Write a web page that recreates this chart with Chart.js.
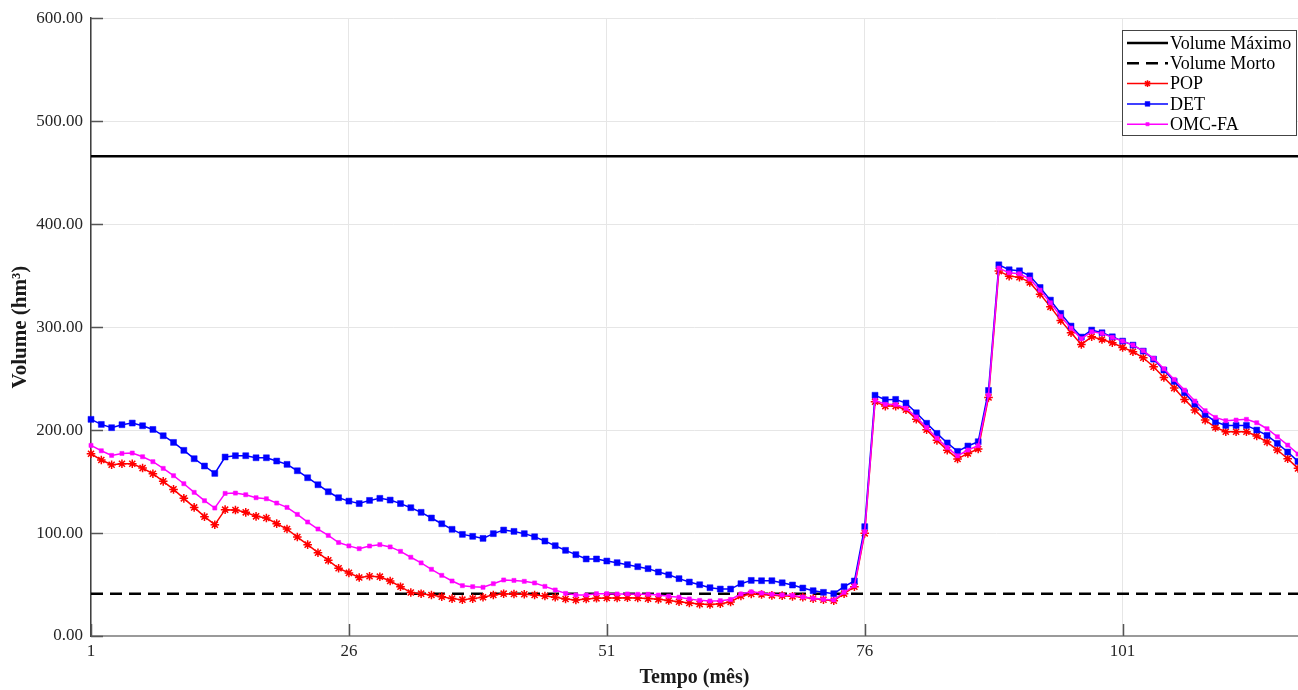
<!DOCTYPE html>
<html>
<head>
<meta charset="utf-8">
<title>Volume do reservatório</title>
<script src="https://cdn.jsdelivr.net/npm/chart.js@4.4.1/dist/chart.umd.min.js"></script>
<style>
  html, body { margin: 0; padding: 0; background: #ffffff; }
  #wrap { width: 1298px; height: 690px; }
</style>
</head>
<body>
<div id="wrap"><canvas id="chart" width="1298" height="690"></canvas></div>
<script>
// Volume armazenado (hm³) por mês para cada política de operação
const pop = [
  177.0, 170.9, 166.3, 167.3, 167.3, 163.1, 157.6, 150.2, 142.4, 133.7,
  124.9, 115.9, 108.1, 122.7, 122.3, 120.1, 116.2, 114.6, 109.1, 103.9,
  96.1, 88.7, 80.9, 73.5, 65.8, 61.3, 56.8, 58.0, 57.6, 53.4,
  47.9, 42.2, 41.1, 39.8, 38.2, 36.3, 35.3, 36.3, 37.6, 39.8,
  41.1, 40.8, 40.5, 39.8, 38.8, 37.6, 35.9, 35.0, 35.9, 36.6,
  36.9, 36.9, 37.2, 36.9, 36.3, 35.6, 34.5, 33.3, 32.1, 31.0,
  30.7, 31.4, 33.0, 38.8, 40.8, 40.3, 39.5, 39.2, 38.5, 37.6,
  36.3, 35.3, 34.3, 41.1, 47.9, 99.7, 227.6, 223.3, 223.3, 219.8,
  210.6, 200.4, 190.0, 180.5, 172.0, 177.3, 181.6, 231.7, 354.4, 349.5,
  348.5, 343.4, 332.0, 319.7, 306.5, 294.5, 283.2, 290.6, 288.0, 284.8,
  280.3, 276.1, 270.2, 261.5, 251.1, 240.8, 229.8, 219.4, 209.7, 202.6,
  198.4, 198.4, 198.4, 194.2, 188.4, 180.6, 172.2, 162.8
];
const det = [
  210.4, 205.5, 202.3, 205.2, 206.8, 204.2, 200.6, 194.5, 188.0, 180.3,
  172.2, 165.1, 157.9, 173.8, 175.1, 175.1, 173.1, 173.1, 169.9, 166.7,
  160.5, 153.7, 146.9, 140.1, 134.3, 131.0, 128.6, 131.7, 133.7, 132.0,
  128.6, 124.6, 120.1, 114.6, 109.0, 103.6, 98.7, 96.8, 94.8, 99.4,
  102.9, 101.6, 99.4, 96.4, 92.2, 87.7, 83.2, 79.0, 74.8, 74.8,
  72.8, 71.2, 69.3, 67.3, 65.4, 62.1, 59.4, 55.7, 52.4, 49.8,
  46.9, 45.6, 45.6, 50.8, 54.0, 53.7, 53.7, 51.7, 49.5, 46.6,
  44.0, 42.4, 41.1, 47.9, 53.4, 106.2, 233.8, 229.5, 229.8, 226.2,
  216.8, 206.6, 196.8, 187.5, 179.3, 184.5, 188.7, 238.5, 360.5, 355.7,
  354.7, 349.8, 338.5, 326.2, 313.3, 301.0, 290.3, 297.1, 294.5, 290.6,
  286.4, 282.5, 276.7, 268.9, 258.3, 247.3, 236.3, 225.2, 215.2, 208.1,
  204.5, 204.5, 204.5, 200.0, 194.8, 187.1, 178.7, 169.6
];
const omcFa = [
  185.1, 179.9, 175.4, 177.3, 177.7, 174.1, 169.3, 162.8, 155.7, 147.9,
  139.5, 131.4, 124.3, 138.5, 138.8, 137.2, 134.3, 133.3, 129.1, 124.9,
  118.1, 110.7, 103.9, 97.7, 90.8, 87.5, 84.8, 87.4, 88.7, 86.5,
  82.2, 76.5, 71.0, 64.8, 58.9, 53.4, 48.9, 47.9, 47.3, 50.8,
  54.4, 54.0, 53.1, 51.5, 48.2, 44.7, 41.4, 39.8, 39.8, 41.1,
  41.1, 40.8, 40.8, 40.5, 40.5, 39.8, 38.7, 37.7, 36.0, 34.6,
  34.0, 34.3, 35.5, 40.8, 42.9, 41.7, 40.5, 39.8, 39.5, 37.9,
  36.6, 35.6, 35.0, 42.4, 48.9, 101.3, 229.0, 225.0, 224.8, 221.2,
  212.7, 202.5, 192.1, 183.0, 175.0, 180.6, 184.8, 234.0, 357.3, 352.7,
  351.8, 346.6, 335.9, 323.6, 310.4, 299.0, 288.7, 295.5, 293.9, 290.0,
  286.4, 282.5, 277.0, 269.6, 259.5, 249.2, 238.8, 228.2, 218.8, 212.3,
  209.1, 209.7, 210.4, 207.1, 201.3, 193.5, 185.4, 176.7
];
// Limites do reservatório (hm³)
const volumeMaximo = 466;
const volumeMorto = 41;

// Meses da simulação e marcas do eixo
const meses = Array.from({ length: pop.length }, (_, i) => i + 1);
const xTicks = [1, 26, 51, 76, 101];
const yTicks = [0, 100, 200, 300, 400, 500, 600];

const FONT = "'Liberation Serif', 'Times New Roman', serif";

const serie = (arr) => arr.map((v, i) => ({ x: meses[i], y: v }));
const horizontal = (v) => [{ x: meses[0], y: v }, { x: meses[meses.length - 1], y: v }];

// Marcas internas dos eixos (para dentro da área do gráfico)
const innerTicks = {
  id: 'innerTicks',
  beforeDatasetsDraw(chart) {
    const { ctx, chartArea, scales } = chart;
    ctx.save();
    ctx.lineWidth = 1.5;
    ctx.strokeStyle = '#555555';
    ctx.beginPath();
    yTicks.forEach(v => {
      const y = Math.round(scales.y.getPixelForValue(v)) + 0.5;
      ctx.moveTo(chartArea.left, y);
      ctx.lineTo(chartArea.left + 12, y);
    });
    xTicks.forEach(v => {
      const x = Math.round(scales.x.getPixelForValue(v)) + 0.5;
      ctx.moveTo(x, chartArea.bottom);
      ctx.lineTo(x, chartArea.bottom - 12);
    });
    ctx.stroke();
    ctx.restore();
  }
};

// Legenda em caixa no canto superior direito
const boxLegend = {
  id: 'boxLegend',
  afterDraw(chart) {
    const { ctx } = chart;
    const ds = chart.data.datasets;
    const ordem = [3, 4, 0, 1, 2];
    const bx = 1122, by = 30, bw = 174, bh = 105;
    ctx.save();
    ctx.fillStyle = '#ffffff';
    ctx.fillRect(bx, by, bw, bh);
    ctx.strokeStyle = '#444444';
    ctx.lineWidth = 1;
    ctx.strokeRect(bx + 0.5, by + 0.5, bw, bh);
    ordem.forEach((k, row) => {
      const d = ds[k];
      const y = by + 13 + row * 20.3;
      const x0 = bx + 5, x1 = bx + 46;
      ctx.save();
      ctx.strokeStyle = d.borderColor;
      ctx.lineWidth = d.borderWidth;
      ctx.setLineDash(d.borderDash || []);
      ctx.beginPath();
      ctx.moveTo(x0, y);
      ctx.lineTo(x1, y);
      ctx.stroke();
      ctx.restore();
      if (d.pointRadius > 0) {
        ctx.save();
        ctx.strokeStyle = d.pointBorderColor;
        ctx.fillStyle = d.pointBackgroundColor;
        ctx.lineWidth = d.pointBorderWidth;
        Chart.helpers.drawPoint(ctx, {
          pointStyle: d.pointStyle,
          radius: d.pointRadius * 0.8,
          rotation: 0,
          borderWidth: d.pointBorderWidth
        }, (x0 + x1) / 2, y);
        ctx.restore();
      }
      ctx.fillStyle = '#000000';
      ctx.font = '18px ' + FONT;
      ctx.textBaseline = 'middle';
      ctx.textAlign = 'left';
      ctx.fillText(d.label, x1 + 2, y + 1);
    });
    ctx.restore();
  }
};

new Chart(document.getElementById('chart'), {
  type: 'line',
  data: {
    datasets: [
      {
        label: 'POP', data: serie(pop), order: 2,
        borderColor: '#ff0000', borderWidth: 1.5,
        pointStyle: 'star', pointRadius: 4.3, pointBorderWidth: 1.5,
        pointBorderColor: '#ff0000', pointBackgroundColor: '#ff0000',
        clip: false
      },
      {
        label: 'DET', data: serie(det), order: 1,
        borderColor: '#0000ff', borderWidth: 1.5,
        pointStyle: 'rect', pointRadius: 4.2, pointBorderWidth: 0.5,
        pointBorderColor: '#0000ff', pointBackgroundColor: '#0000ff',
        clip: false
      },
      {
        label: 'OMC-FA', data: serie(omcFa), order: 0,
        borderColor: '#ff00ff', borderWidth: 1.5,
        pointStyle: 'rect', pointRadius: 2.9, pointBorderWidth: 0.5,
        pointBorderColor: '#ff00ff', pointBackgroundColor: '#ff00ff',
        clip: false
      },
      {
        label: 'Volume Máximo', data: horizontal(volumeMaximo), order: 3,
        borderColor: '#000000', borderWidth: 2.6, pointRadius: 0
      },
      {
        label: 'Volume Morto', data: horizontal(volumeMorto), order: 4,
        borderColor: '#000000', borderWidth: 2.6, borderDash: [12, 7], pointRadius: 0
      }
    ]
  },
  options: {
    responsive: false,
    animation: false,
    devicePixelRatio: 1,
    events: [],
    layout: { autoPadding: false, padding: { top: 18, right: 0, bottom: 0, left: 0 } },
    elements: { line: { tension: 0 } },
    plugins: { legend: { display: false }, tooltip: { enabled: false } },
    scales: {
      x: {
        type: 'linear', min: 1, max: 118,
        afterBuildTicks: (s) => { s.ticks = xTicks.map(v => ({ value: v })); },
        afterFit: (s) => { s.height = 54; s.paddingLeft = 0; s.paddingRight = 0; },
        grid: { color: '#e6e6e6', lineWidth: 1, drawTicks: false },
        border: { color: '#9a9a9a', width: 2 },
        ticks: { color: '#262626', font: { family: FONT, size: 17 }, padding: 5, maxRotation: 0 },
        title: {
          display: true, text: 'Tempo (mês)', color: '#1a1a1a',
          font: { family: FONT, size: 20, weight: 'bold' },
          padding: { top: 0, bottom: 0 }
        }
      },
      y: {
        min: 0, max: 600,
        afterBuildTicks: (s) => { s.ticks = yTicks.map(v => ({ value: v })); },
        afterFit: (s) => { s.width = 91; },
        grid: { color: '#e6e6e6', lineWidth: 1, drawTicks: false },
        border: { color: '#404040', width: 1.5 },
        ticks: {
          color: '#262626', font: { family: FONT, size: 17 }, padding: 8,
          callback: (v) => Number(v).toFixed(2)
        },
        title: {
          display: true, text: 'Volume (hm³)', color: '#1a1a1a',
          font: { family: FONT, size: 21, weight: 'bold' },
          padding: { top: 8, bottom: 0 }
        }
      }
    }
  },
  plugins: [innerTicks, boxLegend]
});
</script>
</body>
</html>
